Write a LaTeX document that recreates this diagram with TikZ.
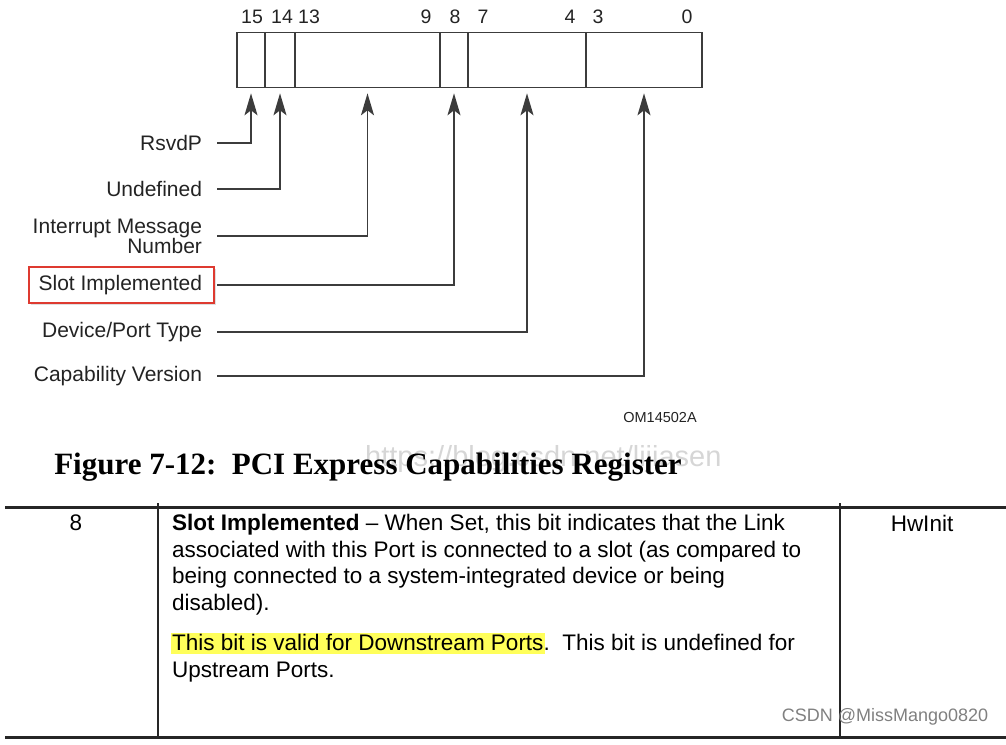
\documentclass[tikz,border=0pt]{standalone}
\usepackage{fontspec}
\setmainfont{Liberation Sans}
\newfontfamily\capfont{Liberation Serif}
\usetikzlibrary{positioning,arrows.meta,shadows}
\definecolor{regline}{RGB}{60,60,60}
\definecolor{lblgray}{RGB}{35,35,35}
\definecolor{markred}{RGB}{222,58,48}
\definecolor{hlyellow}{RGB}{255,255,90}
\newcommand{\hlmark}[1]{{\setlength{\fboxsep}{1pt}\hspace{-1pt}\colorbox{hlyellow}{\rule[-3pt]{0pt}{19pt}#1}\hspace{-1pt}}}

\begin{document}
\begin{tikzpicture}[x=1pt,y=-1pt,
    field/.style={rectangle,draw=regline,line width=1.6pt,
                  minimum height=55pt,inner sep=0pt},
    bitno/.style={inner sep=0pt,text=lblgray,font=\fontsize{19.5}{20}\selectfont},
    lbl/.style={anchor=east,align=right,inner sep=0pt,outer xsep=15pt,
                text=lblgray,font=\fontsize{21}{20}\selectfont},
    conn/.style={draw=regline,line width=1.8pt,
                 -{Stealth[length=22pt,width=13pt,inset=5pt]}},
    markbox/.style={rectangle,draw=markred,line width=2.6pt,
                    drop shadow={opacity=0.25,shadow xshift=2pt,shadow yshift=-2pt},
                    fill=white,minimum width=185pt,minimum height=36pt},
    cell/.style={inner sep=0pt,font=\fontsize{22.5}{26.7}\selectfont},
    desc/.style={anchor=north west,align=left,inner sep=0pt,
                 font=\fontsize{22.5}{26.7}\selectfont},
    rule/.style={line width=3pt,black!85},
    colrule/.style={line width=2pt,black!85}]
  \useasboundingbox (0,0) rectangle (1006,744);

  \foreach \xa/\xb/\nm in {237/265/b15,265/295/b14,295/440/b13,
                           440/468/b8,468/586/b7,586/702/b3}
    \node[field,minimum width={(\xb-\xa)*1pt}] (\nm) at ({(\xa+\xb)/2},60) {};
  \foreach \bx/\bt in {252/15,282/14,309/13,426/9,455/8,483/7,570/4,598/3,687/0}
    \node[bitno] (n\bt) at (\bx,17) {\bt};

  \node[markbox] (mark) at (121.5,285) {};
  \node[lbl] (rsvd) at (217,143) {RsvdP};
  \node[lbl] (undef) at (217,189) {Undefined};
  \node[lbl] (intmsg) at (217,236) {Interrupt Message\\Number};
  \node[lbl] (slot) at (217,285) {Slot Implemented};
  \node[lbl] (devtype) at (217,332) {Device/Port Type};
  \node[lbl] (capver) at (217,376) {Capability Version};

  \draw[conn] (rsvd.east) -| ([yshift=-5pt]b15.south);
  \draw[conn] (undef.east) -| ([yshift=-5pt]b14.south);
  \draw[conn] (intmsg.east) -| ([yshift=-5pt]b13.south);
  \draw[conn] (slot.east) -| ([yshift=-5pt]b8.south);
  \draw[conn] (devtype.east) -| ([yshift=-5pt]b7.south);
  \draw[conn] (capver.east) -| ([yshift=-5pt]b3.south);

  \node[inner sep=0pt,text=lblgray,font=\fontsize{14.5}{15}\selectfont]
       (omid) at (660,418) {OM14502A};
  \node[anchor=base west,inner sep=0pt,text=black!16,font=\fontsize{29}{30}\selectfont]
       (wmurl) at (365,466) {https://blog.csdn.net/lijiasen};
  \node[anchor=base,inner sep=0pt,font=\capfont\bfseries\fontsize{31}{33}\selectfont]
       (caption) at (368,474) {Figure 7-12:\ \ PCI Express Capabilities Register};

  \draw[rule] (5,507) -- (1006,507);
  \draw[rule] (5,737) -- (1006,737);
  \draw[colrule] (158,503) -- (158,737);
  \draw[colrule] (840,503) -- (840,737);
  \node[cell] (bitcell) at (76,523) {8};
  \node[cell] (attr) at (922,523) {HwInit};
  \node[desc] (descr) at (172,514) {\textbf{Slot Implemented} – When Set, this bit indicates that the Link\\
    associated with this Port is connected to a slot (as compared to\\
    being connected to a system-integrated device or being\\
    disabled).\\[13pt]
    \hlmark{This bit is valid for Downstream Ports}.\ \ This bit is undefined for\\
    Upstream Ports.};
  \node[inner sep=0pt,text=black!50,font=\fontsize{18}{18}\selectfont]
       (wmcsdn) at (885,717) {CSDN @MissMango0820};
\end{tikzpicture}
\end{document}
